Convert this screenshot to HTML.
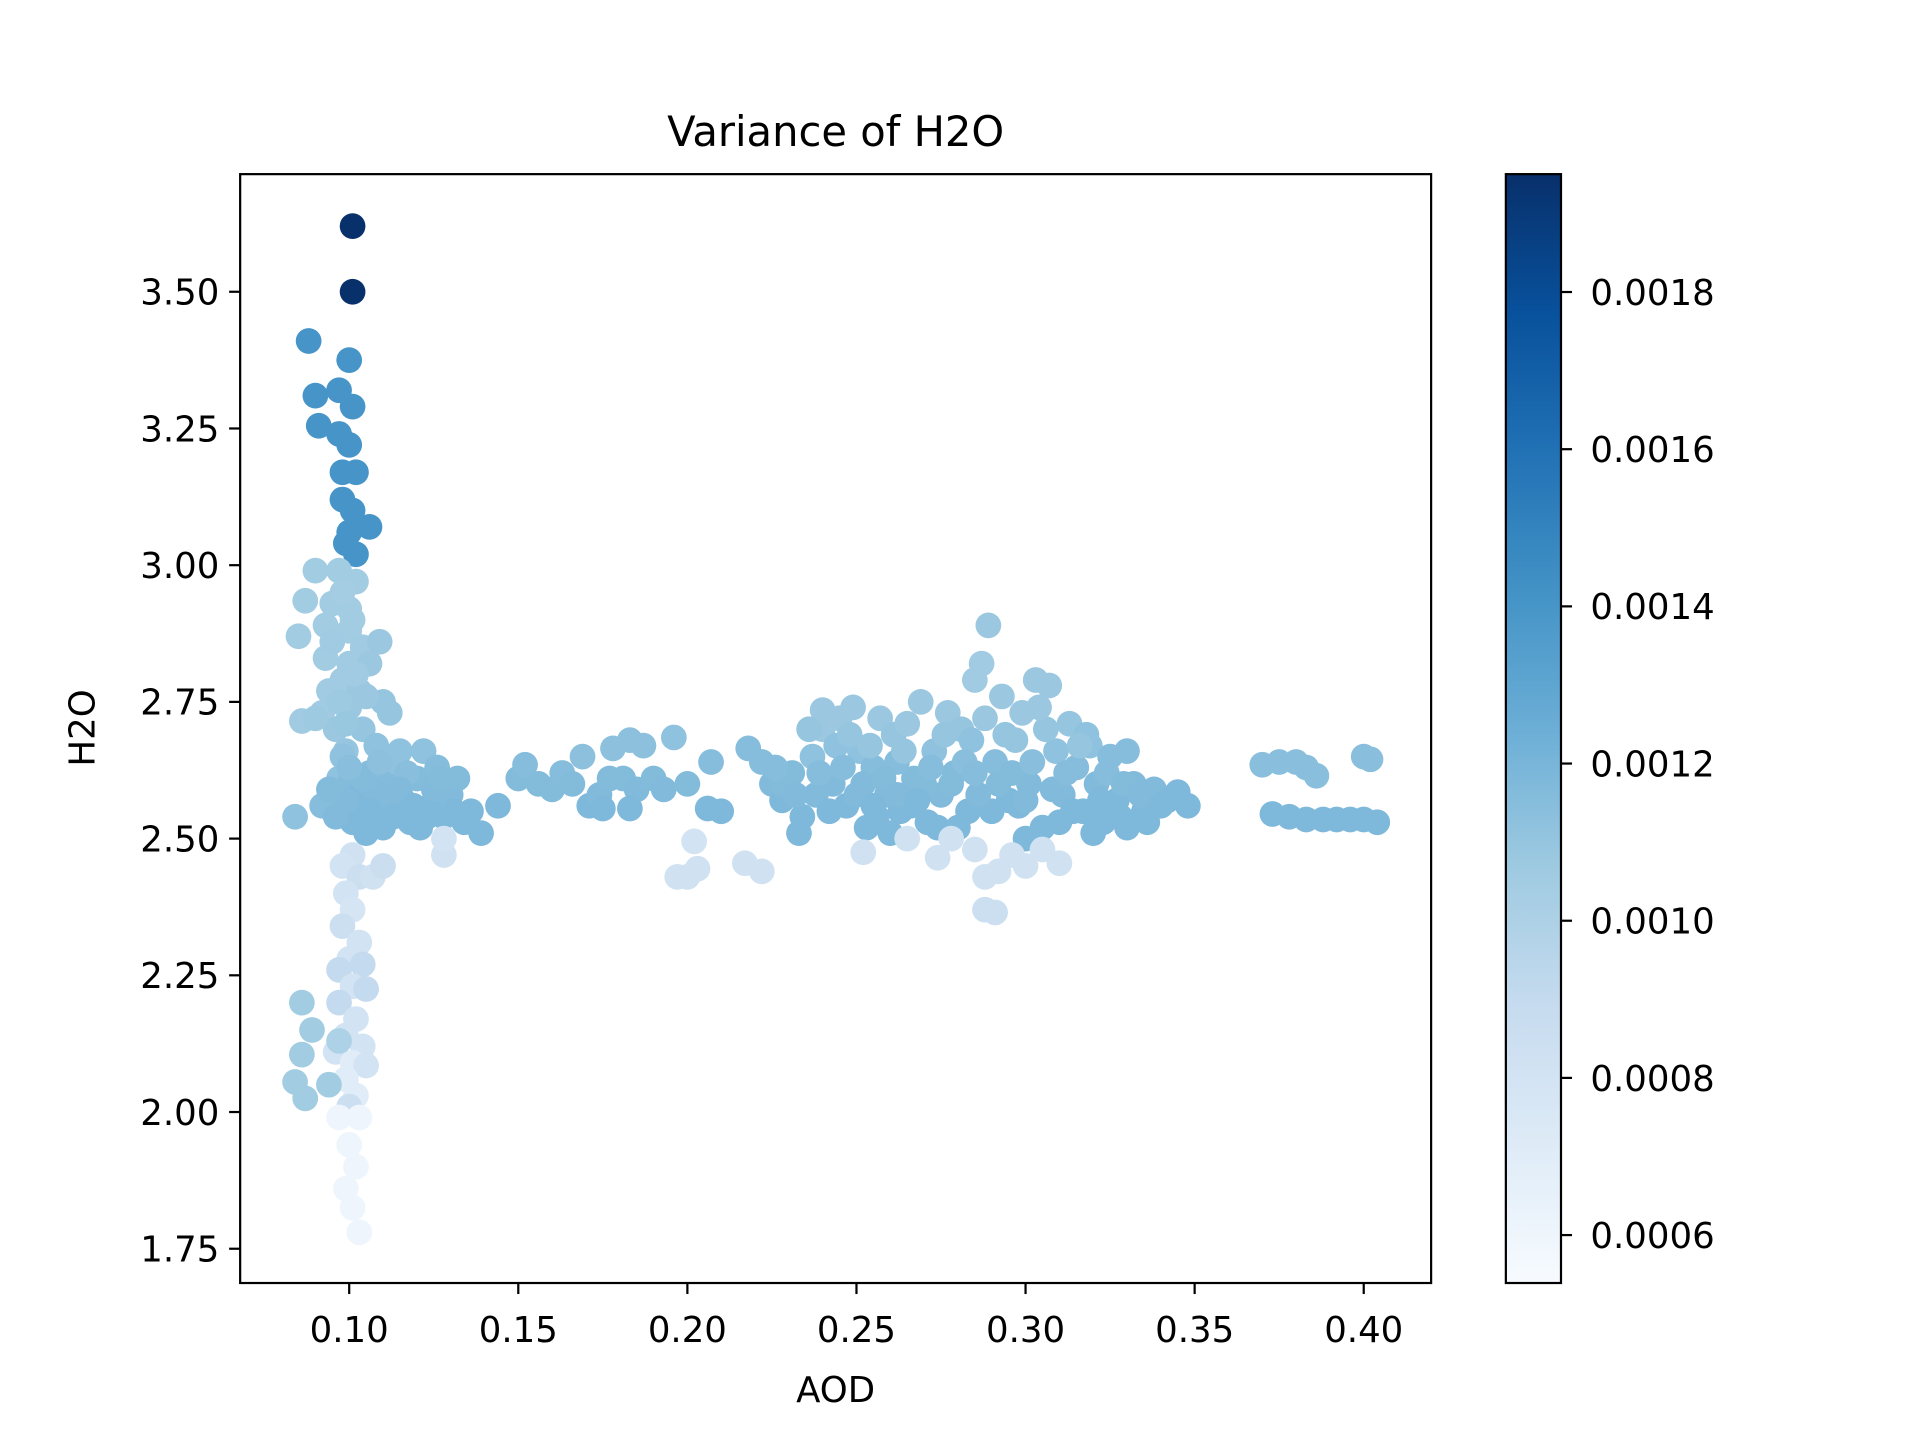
<!DOCTYPE html>
<html><head><meta charset="utf-8"><style>
html,body{margin:0;padding:0;background:#fff}
svg{display:block;font-family:"DejaVu Sans","Liberation Sans",sans-serif}
</style></head><body>
<svg id="chart" width="1920" height="1440" viewBox="0 0 1567 1175" xmlns="http://www.w3.org/2000/svg">
<defs><linearGradient id="cbg" x1="0" y1="1" x2="0" y2="0">
<stop offset="0" stop-color="#f7fbff"/><stop offset="0.125" stop-color="#deebf7"/><stop offset="0.25" stop-color="#c6dbef"/><stop offset="0.375" stop-color="#9ecae1"/><stop offset="0.5" stop-color="#6baed6"/><stop offset="0.625" stop-color="#4292c6"/><stop offset="0.75" stop-color="#2171b5"/><stop offset="0.875" stop-color="#08519c"/><stop offset="1" stop-color="#08306b"/></linearGradient>
<clipPath id="clip"><rect x="196" y="142" width="972" height="905"/></clipPath></defs>
<text x="682" y="119" font-size="34" text-anchor="middle">Variance of H2O</text>
<g id="points" clip-path="url(#clip)"></g>
<rect x="196" y="142" width="972" height="905" fill="none" stroke="#000" stroke-width="1.8"/>
<g id="xticks"></g>
<g id="yticks"></g>
<text x="682" y="1144" font-size="29" text-anchor="middle">AOD</text>
<text transform="translate(77,594) rotate(-90)" font-size="29" text-anchor="middle">H2O</text>
<rect x="1229" y="142" width="45" height="905" fill="url(#cbg)" stroke="#000" stroke-width="1.8"/>
<g id="cticks"></g>
</svg>
<script>
const aod = [
0.101,0.101,0.088,0.100,0.090,0.097,0.101,0.091,0.097,0.100,0.098,0.102,0.098,0.101,0.106,0.099,0.102,0.100,
0.090,0.097,0.102,0.087,0.095,0.100,0.093,0.100,0.085,0.104,0.109,0.093,0.100,0.106,0.098,0.094,0.103,0.110,0.086,0.092,0.100,0.112,0.096,0.104,0.099,0.108,0.115,
0.098,0.101,0.095,0.102,0.097,0.090,0.105,0.099,
0.084,0.092,0.097,0.100,0.103,0.106,0.108,0.110,0.112,0.114,0.116,0.118,0.120,0.122,0.124,0.126,0.128,0.130,0.132,0.134,0.136,0.139,0.144,0.101,0.105,0.111,0.117,0.121,0.125,0.098,0.096,0.113,0.107,
0.102,0.104,0.109,0.115,0.119,0.123,0.127,0.131,0.099,0.094,0.100,0.106,
0.101,0.098,0.103,0.099,0.101,0.098,0.103,0.100,0.104,0.097,0.101,0.105,0.097,0.102,0.099,0.104,0.096,0.101,0.105,0.099,0.102,0.100,0.097,0.103,0.100,0.102,0.099,0.101,0.103,0.107,0.110,
0.086,0.089,0.086,0.084,0.087,0.094,0.097,
0.150,0.152,0.156,0.160,0.163,0.166,0.169,0.171,0.174,0.177,0.178,0.181,0.183,0.185,0.187,0.190,0.193,0.196,0.200,0.207,0.206,0.210,0.175,0.183,
0.197,0.200,0.203,0.202,0.217,0.222,0.128,0.128,
0.218,0.222,0.225,0.228,0.231,0.234,0.237,0.240,0.240,0.243,0.245,0.247,0.249,0.251,0.253,0.255,0.257,0.259,0.261,0.263,0.265,0.267,0.269,0.271,0.273,0.275,0.277,0.279,0.281,0.283,0.285,0.287,0.289,0.291,0.293,0.295,0.297,0.299,0.301,0.303,0.305,0.307,0.309,0.311,0.313,0.315,0.317,0.319,0.321,0.323,0.325,0.327,0.330,0.332,0.335,0.338,0.342,0.345,0.348,0.233,0.250,0.260,0.270,0.280,0.290,0.300,0.310,0.320,0.330,0.236,0.262,0.284,0.296,0.318,0.328,0.244,0.266,0.276,0.306,
0.238,0.242,0.246,0.248,0.252,0.254,0.256,0.258,0.262,0.264,0.268,0.272,0.274,0.278,0.282,0.286,0.288,0.292,0.294,0.298,0.302,0.304,0.308,0.312,0.314,0.316,0.322,0.324,0.326,0.329,0.334,0.336,0.340,0.228,0.226,0.232,0.239,0.255,0.285,0.300,
0.252,0.265,0.274,0.288,0.291,0.288,0.292,0.296,0.300,0.305,0.310,0.285,0.278,
0.370,0.375,0.380,0.383,0.386,0.373,0.378,0.383,0.388,0.392,0.396,0.400,0.404,0.400,0.402
];
const h2o = [
3.62,3.50,3.41,3.375,3.31,3.32,3.29,3.255,3.24,3.22,3.17,3.17,3.12,3.10,3.07,3.04,3.02,3.06,
2.99,2.99,2.97,2.935,2.93,2.92,2.89,2.88,2.87,2.85,2.86,2.83,2.82,2.82,2.79,2.77,2.77,2.75,2.715,2.73,2.74,2.73,2.70,2.70,2.66,2.67,2.66,
2.95,2.90,2.86,2.80,2.75,2.72,2.76,2.71,
2.54,2.56,2.61,2.60,2.58,2.62,2.55,2.52,2.60,2.64,2.57,2.53,2.61,2.66,2.56,2.63,2.54,2.58,2.61,2.53,2.55,2.51,2.56,2.53,2.51,2.57,2.62,2.52,2.59,2.65,2.54,2.54,2.59,
2.56,2.61,2.64,2.59,2.56,2.54,2.61,2.55,2.57,2.59,2.63,2.55,
2.47,2.45,2.43,2.40,2.37,2.34,2.31,2.28,2.27,2.26,2.23,2.225,2.20,2.17,2.14,2.12,2.11,2.09,2.085,2.06,2.03,2.01,1.99,1.99,1.94,1.90,1.86,1.825,1.78,2.43,2.45,
2.20,2.15,2.105,2.055,2.025,2.05,2.13,
2.61,2.635,2.60,2.59,2.62,2.60,2.65,2.56,2.58,2.61,2.665,2.61,2.68,2.59,2.67,2.61,2.59,2.685,2.60,2.64,2.555,2.55,2.555,2.555,
2.43,2.43,2.445,2.495,2.455,2.44,2.47,2.50,
2.665,2.64,2.60,2.57,2.62,2.54,2.65,2.70,2.735,2.60,2.72,2.56,2.74,2.66,2.52,2.63,2.72,2.58,2.69,2.55,2.71,2.61,2.75,2.53,2.66,2.58,2.73,2.62,2.70,2.55,2.79,2.82,2.89,2.64,2.76,2.57,2.68,2.73,2.60,2.79,2.52,2.78,2.66,2.58,2.71,2.63,2.55,2.67,2.60,2.53,2.65,2.57,2.66,2.60,2.55,2.59,2.57,2.585,2.56,2.51,2.58,2.51,2.60,2.52,2.55,2.50,2.53,2.51,2.52,2.70,2.64,2.68,2.62,2.69,2.54,2.67,2.56,2.69,2.70,
2.58,2.55,2.63,2.69,2.60,2.67,2.54,2.61,2.58,2.66,2.57,2.63,2.52,2.60,2.64,2.58,2.72,2.60,2.69,2.56,2.64,2.74,2.59,2.62,2.55,2.67,2.57,2.62,2.55,2.60,2.58,2.53,2.56,2.60,2.63,2.58,2.62,2.56,2.62,2.57,
2.475,2.50,2.465,2.37,2.365,2.43,2.44,2.47,2.45,2.48,2.455,2.48,2.50,
2.635,2.64,2.64,2.63,2.615,2.545,2.54,2.535,2.535,2.535,2.535,2.535,2.53,2.65,2.645
];
const variance = [
0.00195,0.00195,0.00140,0.00140,0.00140,0.00140,0.00140,0.00140,0.00140,0.00140,0.00140,0.00140,0.00140,0.00140,0.00140,0.00140,0.00140,0.00140,
0.00105,0.00105,0.00105,0.00105,0.00105,0.00105,0.00105,0.00105,0.00105,0.00106,0.00108,0.00105,0.00106,0.00108,0.00106,0.00106,0.00108,0.00110,0.00106,0.00106,0.00108,0.00110,0.00108,0.00110,0.00110,0.00112,0.00112,
0.00104,0.00105,0.00106,0.00106,0.00107,0.00107,0.00108,0.00109,
0.00112,0.00115,0.00112,0.00116,0.00118,0.00115,0.00118,0.00118,0.00116,0.00112,0.00118,0.00118,0.00116,0.00112,0.00118,0.00115,0.00118,0.00117,0.00116,0.00118,0.00118,0.00118,0.00118,0.00118,0.00118,0.00117,0.00114,0.00118,0.00117,0.00112,0.00117,0.00118,0.00117,
0.00118,0.00116,0.00113,0.00117,0.00118,0.00118,0.00116,0.00118,0.00117,0.00116,0.00114,0.00118,
0.00082,0.00080,0.00085,0.00080,0.00078,0.00085,0.00080,0.00080,0.00090,0.00090,0.00080,0.00090,0.00090,0.00080,0.00080,0.00080,0.00080,0.00070,0.00080,0.00070,0.00070,0.00085,0.00060,0.00060,0.00060,0.00060,0.00060,0.00060,0.00060,0.00082,0.00086,
0.00105,0.00105,0.00105,0.00105,0.00105,0.00105,0.00100,
0.00116,0.00115,0.00116,0.00116,0.00115,0.00116,0.00113,0.00118,0.00117,0.00116,0.00113,0.00116,0.00113,0.00117,0.00113,0.00116,0.00117,0.00112,0.00116,0.00115,0.00118,0.00118,0.00118,0.00118,
0.00082,0.00082,0.00082,0.00080,0.00082,0.00082,0.00082,0.00080,
0.00115,0.00115,0.00117,0.00118,0.00116,0.00118,0.00112,0.00108,0.00108,0.00117,0.00108,0.00118,0.00108,0.00112,0.00118,0.00115,0.00108,0.00117,0.00110,0.00118,0.00108,0.00116,0.00108,0.00118,0.00112,0.00117,0.00108,0.00116,0.00110,0.00118,0.00106,0.00106,0.00108,0.00115,0.00108,0.00118,0.00110,0.00108,0.00117,0.00108,0.00118,0.00108,0.00112,0.00117,0.00110,0.00115,0.00118,0.00112,0.00117,0.00118,0.00115,0.00118,0.00115,0.00117,0.00118,0.00117,0.00118,0.00118,0.00118,0.00118,0.00117,0.00118,0.00116,0.00118,0.00118,0.00118,0.00118,0.00118,0.00118,0.00110,0.00115,0.00112,0.00116,0.00112,0.00118,0.00112,0.00118,0.00110,0.00110,
0.00117,0.00118,0.00115,0.00110,0.00117,0.00110,0.00118,0.00116,0.00117,0.00110,0.00118,0.00115,0.00118,0.00116,0.00114,0.00117,0.00108,0.00116,0.00110,0.00118,0.00114,0.00108,0.00117,0.00115,0.00118,0.00110,0.00118,0.00115,0.00118,0.00116,0.00117,0.00118,0.00118,0.00116,0.00115,0.00117,0.00115,0.00118,0.00115,0.00117,
0.00082,0.00082,0.00082,0.00085,0.00085,0.00082,0.00082,0.00082,0.00082,0.00082,0.00082,0.00082,0.00082,
0.00114,0.00114,0.00114,0.00114,0.00114,0.00118,0.00118,0.00118,0.00118,0.00118,0.00118,0.00118,0.00118,0.00114,0.00114
];
const xTickValues = [0.10,0.15,0.20,0.25,0.30,0.35,0.40];
const xTickLabels = ["0.10","0.15","0.20","0.25","0.30","0.35","0.40"];
const yTickValues = [1.75,2.00,2.25,2.50,2.75,3.00,3.25,3.50];
const yTickLabels = ["1.75","2.00","2.25","2.50","2.75","3.00","3.25","3.50"];
const cTickValues = [0.0006,0.0008,0.0010,0.0012,0.0014,0.0016,0.0018];
const cTickLabels = ["0.0006","0.0008","0.0010","0.0012","0.0014","0.0016","0.0018"];
const vmin = 0.000539, vmax = 0.00195;

const NS = "http://www.w3.org/2000/svg";
const xs = v => 285 + (v - 0.10) * 2760;
const ys = v => 238 + (3.50 - v) * 446.3;
const cs = v => 1047 - (v - vmin) / (vmax - vmin) * 905;
const stops = [[247,251,255],[222,235,247],[198,219,239],[158,202,225],[107,174,214],[66,146,198],[33,113,181],[8,81,156],[8,48,107]];
function cmap(v){
  let t = Math.max(0, Math.min(1, (v - vmin) / (vmax - vmin))) * 8;
  let i = Math.min(7, Math.floor(t)), f = t - i;
  const c = stops[i].map((a, k) => Math.round(a + (stops[i+1][k] - a) * f));
  return "rgb(" + c.join(",") + ")";
}
function mk(tag, attrs, parent, txt){
  const e = document.createElementNS(NS, tag);
  for (const k in attrs) e.setAttribute(k, attrs[k]);
  if (txt !== undefined) e.textContent = txt;
  parent.appendChild(e); return e;
}
const gp = document.getElementById("points");
for (let i = 0; i < aod.length; i++){
  const c = mk("circle", {cx: xs(aod[i]), cy: ys(h2o[i]), r: 10.5, fill: cmap(variance[i])}, gp);
  
  
}
const gx = document.getElementById("xticks");
xTickValues.forEach((v, i) => {
  const l = mk("line", {x1: xs(v), x2: xs(v), y1: 1047, y2: 1056, stroke: "#000", "stroke-width": 1.8}, gx);
  
  
  const t = mk("text", {x: xs(v), y: 1095, "font-size": 29, "text-anchor": "middle"}, gx, xTickLabels[i]);
  
  
});
const gy = document.getElementById("yticks");
yTickValues.forEach((v, i) => {
  const l = mk("line", {x1: 187, x2: 196, y1: ys(v), y2: ys(v), stroke: "#000", "stroke-width": 1.8}, gy);
  
  
  const t = mk("text", {x: 179, y: ys(v) + 10.5, "font-size": 29, "text-anchor": "end"}, gy, yTickLabels[i]);
  
  
});
const gc = document.getElementById("cticks");
cTickValues.forEach((v, i) => {
  const l = mk("line", {x1: 1274, x2: 1283, y1: cs(v), y2: cs(v), stroke: "#000", "stroke-width": 1.8}, gc);
  
  
  const t = mk("text", {x: 1298, y: cs(v) + 10.5, "font-size": 29}, gc, cTickLabels[i]);
  
  
});
</script>
</body></html>
